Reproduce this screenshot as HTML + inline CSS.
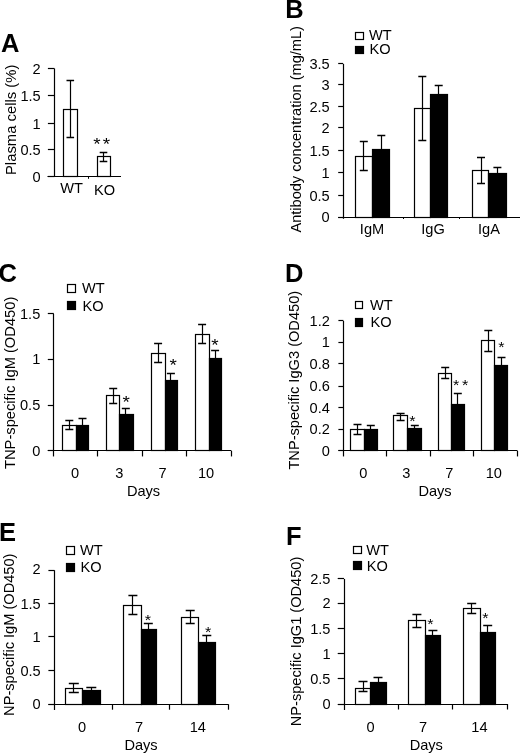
<!DOCTYPE html>
<html><head><meta charset="utf-8"><title>Figure</title>
<style>
html,body{margin:0;padding:0;background:#fff;}
body{width:520px;height:754px;overflow:hidden;}
svg{display:block;filter:grayscale(1) blur(0.35px);}
text{font-family:"Liberation Sans",sans-serif;fill:#000;}
</style></head><body>
<svg width="520" height="754" viewBox="0 0 520 754">
<rect x="0" y="0" width="520" height="754" fill="#fff"/>
<text x="1.00" y="51.90" font-size="25.5" text-anchor="start" font-weight="bold">A</text>
<line x1="54.50" y1="68.50" x2="54.50" y2="176.80" stroke="#000" stroke-width="1.2"/>
<line x1="47.90" y1="176.50" x2="54.40" y2="176.50" stroke="#000" stroke-width="1.2"/>
<text x="40.70" y="182.00" font-size="14.6" text-anchor="end" font-weight="normal">0</text>
<line x1="47.90" y1="149.50" x2="54.40" y2="149.50" stroke="#000" stroke-width="1.2"/>
<text x="40.70" y="154.70" font-size="14.6" text-anchor="end" font-weight="normal">0.5</text>
<line x1="47.90" y1="123.50" x2="54.40" y2="123.50" stroke="#000" stroke-width="1.2"/>
<text x="40.70" y="128.95" font-size="14.6" text-anchor="end" font-weight="normal">1</text>
<line x1="47.90" y1="95.50" x2="54.40" y2="95.50" stroke="#000" stroke-width="1.2"/>
<text x="40.70" y="100.80" font-size="14.6" text-anchor="end" font-weight="normal">1.5</text>
<line x1="47.90" y1="68.50" x2="54.40" y2="68.50" stroke="#000" stroke-width="1.2"/>
<text x="40.70" y="73.70" font-size="14.6" text-anchor="end" font-weight="normal">2</text>
<line x1="47.50" y1="176.50" x2="121.00" y2="176.50" stroke="#000" stroke-width="1.2"/>
<line x1="88.50" y1="176.80" x2="88.50" y2="178.80" stroke="#000" stroke-width="1"/>
<rect x="63.50" y="109.50" width="14.00" height="67.00" fill="#fff" stroke="#000" stroke-width="1.2"/>
<line x1="70.50" y1="80.80" x2="70.50" y2="137.00" stroke="#000" stroke-width="1.2"/>
<line x1="66.50" y1="80.50" x2="74.10" y2="80.50" stroke="#000" stroke-width="1.5"/>
<line x1="66.50" y1="137.50" x2="74.10" y2="137.50" stroke="#000" stroke-width="1.5"/>
<rect x="97.50" y="156.50" width="13.00" height="20.00" fill="#fff" stroke="#000" stroke-width="1.2"/>
<line x1="103.50" y1="152.50" x2="103.50" y2="161.70" stroke="#000" stroke-width="1.2"/>
<line x1="99.70" y1="152.50" x2="107.30" y2="152.50" stroke="#000" stroke-width="1.5"/>
<line x1="99.70" y1="161.50" x2="107.30" y2="161.50" stroke="#000" stroke-width="1.5"/>
<text transform="translate(97.00,149.51) scale(1.08,0.92)" font-size="17.5" text-anchor="middle">*</text>
<text transform="translate(106.50,149.51) scale(1.08,0.92)" font-size="17.5" text-anchor="middle">*</text>
<text x="71.50" y="193.00" font-size="14.6" text-anchor="middle" font-weight="normal">WT</text>
<text x="104.50" y="195.00" font-size="14.6" text-anchor="middle" font-weight="normal">KO</text>
<text transform="translate(15.60,119.80) rotate(-90)" font-size="14.6" text-anchor="middle" textLength="110.5" lengthAdjust="spacingAndGlyphs">Plasma cells (%)</text>
<text x="285.30" y="17.90" font-size="25.5" text-anchor="start" font-weight="bold">B</text>
<rect x="355.50" y="32.50" width="8.00" height="7.00" fill="#fff" stroke="#000" stroke-width="1.2"/>
<text x="369.00" y="40.30" font-size="14.6" text-anchor="start" font-weight="normal">WT</text>
<rect x="355.50" y="46.50" width="8.00" height="7.00" fill="#000" stroke="#000" stroke-width="1.2"/>
<text x="369.50" y="54.40" font-size="14.6" text-anchor="start" font-weight="normal">KO</text>
<line x1="343.50" y1="63.95" x2="343.50" y2="218.80" stroke="#000" stroke-width="1.2"/>
<line x1="338.20" y1="217.50" x2="343.20" y2="217.50" stroke="#000" stroke-width="1.2"/>
<text x="329.70" y="222.20" font-size="14.6" text-anchor="end" font-weight="normal">0</text>
<line x1="338.20" y1="195.50" x2="343.20" y2="195.50" stroke="#000" stroke-width="1.2"/>
<text x="329.70" y="200.70" font-size="14.6" text-anchor="end" font-weight="normal">0.5</text>
<line x1="338.20" y1="172.50" x2="343.20" y2="172.50" stroke="#000" stroke-width="1.2"/>
<text x="329.70" y="177.80" font-size="14.6" text-anchor="end" font-weight="normal">1</text>
<line x1="338.20" y1="150.50" x2="343.20" y2="150.50" stroke="#000" stroke-width="1.2"/>
<text x="329.70" y="155.95" font-size="14.6" text-anchor="end" font-weight="normal">1.5</text>
<line x1="338.20" y1="127.50" x2="343.20" y2="127.50" stroke="#000" stroke-width="1.2"/>
<text x="329.70" y="132.75" font-size="14.6" text-anchor="end" font-weight="normal">2</text>
<line x1="338.20" y1="106.50" x2="343.20" y2="106.50" stroke="#000" stroke-width="1.2"/>
<text x="329.70" y="112.10" font-size="14.6" text-anchor="end" font-weight="normal">2.5</text>
<line x1="338.20" y1="84.50" x2="343.20" y2="84.50" stroke="#000" stroke-width="1.2"/>
<text x="329.70" y="90.00" font-size="14.6" text-anchor="end" font-weight="normal">3</text>
<line x1="338.20" y1="63.50" x2="343.20" y2="63.50" stroke="#000" stroke-width="1.2"/>
<text x="329.70" y="69.15" font-size="14.6" text-anchor="end" font-weight="normal">3.5</text>
<line x1="338.20" y1="217.50" x2="520.00" y2="217.50" stroke="#000" stroke-width="1.2"/>
<line x1="403.50" y1="217.00" x2="403.50" y2="219.00" stroke="#000" stroke-width="1"/>
<line x1="459.50" y1="217.00" x2="459.50" y2="219.00" stroke="#000" stroke-width="1"/>
<rect x="355.50" y="156.50" width="17.00" height="61.00" fill="#fff" stroke="#000" stroke-width="1.2"/>
<rect x="372.50" y="149.50" width="17.00" height="68.00" fill="#000" stroke="#000" stroke-width="1.2"/>
<line x1="363.50" y1="141.80" x2="363.50" y2="170.00" stroke="#000" stroke-width="1.2"/>
<line x1="359.80" y1="141.50" x2="367.80" y2="141.50" stroke="#000" stroke-width="1.5"/>
<line x1="359.80" y1="170.50" x2="367.80" y2="170.50" stroke="#000" stroke-width="1.5"/>
<line x1="381.50" y1="135.00" x2="381.50" y2="149.30" stroke="#000" stroke-width="1.2"/>
<line x1="377.30" y1="135.50" x2="385.30" y2="135.50" stroke="#000" stroke-width="1.5"/>
<rect x="414.50" y="108.50" width="16.00" height="109.00" fill="#fff" stroke="#000" stroke-width="1.2"/>
<rect x="430.50" y="94.50" width="17.00" height="123.00" fill="#000" stroke="#000" stroke-width="1.2"/>
<line x1="422.50" y1="76.10" x2="422.50" y2="140.70" stroke="#000" stroke-width="1.2"/>
<line x1="418.30" y1="76.50" x2="426.30" y2="76.50" stroke="#000" stroke-width="1.5"/>
<line x1="418.30" y1="140.50" x2="426.30" y2="140.50" stroke="#000" stroke-width="1.5"/>
<line x1="438.50" y1="85.40" x2="438.50" y2="94.40" stroke="#000" stroke-width="1.2"/>
<line x1="434.70" y1="85.50" x2="442.70" y2="85.50" stroke="#000" stroke-width="1.5"/>
<rect x="472.50" y="170.50" width="16.00" height="47.00" fill="#fff" stroke="#000" stroke-width="1.2"/>
<rect x="488.50" y="173.50" width="18.00" height="44.00" fill="#000" stroke="#000" stroke-width="1.2"/>
<line x1="481.50" y1="157.70" x2="481.50" y2="183.40" stroke="#000" stroke-width="1.2"/>
<line x1="477.00" y1="157.50" x2="485.00" y2="157.50" stroke="#000" stroke-width="1.5"/>
<line x1="477.00" y1="183.50" x2="485.00" y2="183.50" stroke="#000" stroke-width="1.5"/>
<line x1="497.50" y1="167.20" x2="497.50" y2="173.90" stroke="#000" stroke-width="1.2"/>
<line x1="493.40" y1="167.50" x2="501.40" y2="167.50" stroke="#000" stroke-width="1.5"/>
<text x="372.00" y="234.00" font-size="14.6" text-anchor="middle" font-weight="normal">IgM</text>
<text x="433.00" y="234.00" font-size="14.6" text-anchor="middle" font-weight="normal">IgG</text>
<text x="489.00" y="234.00" font-size="14.6" text-anchor="middle" font-weight="normal">IgA</text>
<text transform="translate(300.50,129.30) rotate(-90)" font-size="14.6" text-anchor="middle" textLength="206.5" lengthAdjust="spacingAndGlyphs">Antibody concentration (mg/mL)</text>
<text x="-1.40" y="281.70" font-size="25.5" text-anchor="start" font-weight="bold">C</text>
<rect x="67.50" y="284.50" width="8.00" height="8.00" fill="#fff" stroke="#000" stroke-width="1.2"/>
<text x="82.00" y="292.80" font-size="14.6" text-anchor="start" font-weight="normal">WT</text>
<rect x="67.50" y="301.50" width="8.00" height="8.00" fill="#000" stroke="#000" stroke-width="1.2"/>
<text x="82.50" y="310.60" font-size="14.6" text-anchor="start" font-weight="normal">KO</text>
<line x1="53.50" y1="313.90" x2="53.50" y2="456.45" stroke="#000" stroke-width="1.2"/>
<line x1="47.80" y1="450.50" x2="53.80" y2="450.50" stroke="#000" stroke-width="1.2"/>
<text x="40.30" y="456.15" font-size="14.6" text-anchor="end" font-weight="normal">0</text>
<line x1="47.80" y1="405.50" x2="53.80" y2="405.50" stroke="#000" stroke-width="1.2"/>
<text x="40.30" y="410.40" font-size="14.6" text-anchor="end" font-weight="normal">0.5</text>
<line x1="47.80" y1="359.50" x2="53.80" y2="359.50" stroke="#000" stroke-width="1.2"/>
<text x="40.30" y="364.40" font-size="14.6" text-anchor="end" font-weight="normal">1</text>
<line x1="47.80" y1="313.50" x2="53.80" y2="313.50" stroke="#000" stroke-width="1.2"/>
<text x="40.30" y="319.10" font-size="14.6" text-anchor="end" font-weight="normal">1.5</text>
<line x1="47.80" y1="450.50" x2="231.40" y2="450.50" stroke="#000" stroke-width="1.2"/>
<line x1="97.50" y1="450.95" x2="97.50" y2="456.45" stroke="#000" stroke-width="1.2"/>
<line x1="142.50" y1="450.95" x2="142.50" y2="456.45" stroke="#000" stroke-width="1.2"/>
<line x1="186.50" y1="450.95" x2="186.50" y2="456.45" stroke="#000" stroke-width="1.2"/>
<line x1="231.50" y1="450.95" x2="231.50" y2="456.45" stroke="#000" stroke-width="1.2"/>
<rect x="62.50" y="425.50" width="14.00" height="25.00" fill="#fff" stroke="#000" stroke-width="1.2"/>
<rect x="76.50" y="425.50" width="12.00" height="25.00" fill="#000" stroke="#000" stroke-width="1.2"/>
<line x1="69.50" y1="420.00" x2="69.50" y2="429.50" stroke="#000" stroke-width="1.2"/>
<line x1="65.30" y1="420.50" x2="73.30" y2="420.50" stroke="#000" stroke-width="1.5"/>
<line x1="65.30" y1="429.50" x2="73.30" y2="429.50" stroke="#000" stroke-width="1.5"/>
<line x1="82.50" y1="418.80" x2="82.50" y2="425.50" stroke="#000" stroke-width="1.2"/>
<line x1="78.50" y1="418.50" x2="86.50" y2="418.50" stroke="#000" stroke-width="1.5"/>
<rect x="106.50" y="395.50" width="13.00" height="55.00" fill="#fff" stroke="#000" stroke-width="1.2"/>
<rect x="119.50" y="414.50" width="14.00" height="36.00" fill="#000" stroke="#000" stroke-width="1.2"/>
<line x1="113.50" y1="388.90" x2="113.50" y2="403.80" stroke="#000" stroke-width="1.2"/>
<line x1="109.20" y1="388.50" x2="117.20" y2="388.50" stroke="#000" stroke-width="1.5"/>
<line x1="109.20" y1="403.50" x2="117.20" y2="403.50" stroke="#000" stroke-width="1.5"/>
<line x1="125.50" y1="408.10" x2="125.50" y2="414.70" stroke="#000" stroke-width="1.2"/>
<line x1="121.80" y1="408.50" x2="129.80" y2="408.50" stroke="#000" stroke-width="1.5"/>
<rect x="151.50" y="353.50" width="14.00" height="97.00" fill="#fff" stroke="#000" stroke-width="1.2"/>
<rect x="165.50" y="380.50" width="12.00" height="70.00" fill="#000" stroke="#000" stroke-width="1.2"/>
<line x1="158.50" y1="343.80" x2="158.50" y2="362.60" stroke="#000" stroke-width="1.2"/>
<line x1="154.10" y1="343.50" x2="162.10" y2="343.50" stroke="#000" stroke-width="1.5"/>
<line x1="154.10" y1="362.50" x2="162.10" y2="362.50" stroke="#000" stroke-width="1.5"/>
<line x1="170.50" y1="373.30" x2="170.50" y2="380.10" stroke="#000" stroke-width="1.2"/>
<line x1="166.90" y1="373.50" x2="174.90" y2="373.50" stroke="#000" stroke-width="1.5"/>
<rect x="195.50" y="334.50" width="14.00" height="116.00" fill="#fff" stroke="#000" stroke-width="1.2"/>
<rect x="209.50" y="358.50" width="12.00" height="92.00" fill="#000" stroke="#000" stroke-width="1.2"/>
<line x1="202.50" y1="324.60" x2="202.50" y2="343.80" stroke="#000" stroke-width="1.2"/>
<line x1="198.10" y1="324.50" x2="206.10" y2="324.50" stroke="#000" stroke-width="1.5"/>
<line x1="198.10" y1="343.50" x2="206.10" y2="343.50" stroke="#000" stroke-width="1.5"/>
<line x1="215.50" y1="350.60" x2="215.50" y2="358.10" stroke="#000" stroke-width="1.2"/>
<line x1="211.10" y1="350.50" x2="219.10" y2="350.50" stroke="#000" stroke-width="1.5"/>
<text transform="translate(126.20,407.51) scale(1.08,0.92)" font-size="17.5" text-anchor="middle">*</text>
<text transform="translate(173.10,371.21) scale(1.08,0.92)" font-size="17.5" text-anchor="middle">*</text>
<text transform="translate(214.90,351.21) scale(1.08,0.92)" font-size="17.5" text-anchor="middle">*</text>
<text x="75.00" y="478.30" font-size="14.6" text-anchor="middle" font-weight="normal">0</text>
<text x="119.40" y="478.30" font-size="14.6" text-anchor="middle" font-weight="normal">3</text>
<text x="162.50" y="478.30" font-size="14.6" text-anchor="middle" font-weight="normal">7</text>
<text x="206.00" y="478.30" font-size="14.6" text-anchor="middle" font-weight="normal">10</text>
<text x="143.50" y="496.00" font-size="14.6" text-anchor="middle" font-weight="normal">Days</text>
<text transform="translate(15.00,382.85) rotate(-90)" font-size="14.6" text-anchor="middle" textLength="172.3" lengthAdjust="spacingAndGlyphs">TNP-specific IgM (OD450)</text>
<text x="285.00" y="282.00" font-size="25.5" text-anchor="start" font-weight="bold">D</text>
<rect x="355.50" y="301.50" width="7.00" height="7.00" fill="#fff" stroke="#000" stroke-width="1.2"/>
<text x="370.00" y="309.50" font-size="14.6" text-anchor="start" font-weight="normal">WT</text>
<rect x="355.50" y="318.50" width="7.00" height="8.00" fill="#000" stroke="#000" stroke-width="1.2"/>
<text x="370.50" y="327.00" font-size="14.6" text-anchor="start" font-weight="normal">KO</text>
<line x1="343.50" y1="320.90" x2="343.50" y2="456.45" stroke="#000" stroke-width="1.2"/>
<line x1="338.40" y1="450.50" x2="343.40" y2="450.50" stroke="#000" stroke-width="1.2"/>
<text x="329.90" y="456.15" font-size="14.6" text-anchor="end" font-weight="normal">0</text>
<line x1="338.40" y1="429.50" x2="343.40" y2="429.50" stroke="#000" stroke-width="1.2"/>
<text x="329.90" y="434.30" font-size="14.6" text-anchor="end" font-weight="normal">0.2</text>
<line x1="338.40" y1="407.50" x2="343.40" y2="407.50" stroke="#000" stroke-width="1.2"/>
<text x="329.90" y="413.10" font-size="14.6" text-anchor="end" font-weight="normal">0.4</text>
<line x1="338.40" y1="386.50" x2="343.40" y2="386.50" stroke="#000" stroke-width="1.2"/>
<text x="329.90" y="391.45" font-size="14.6" text-anchor="end" font-weight="normal">0.6</text>
<line x1="338.40" y1="363.50" x2="343.40" y2="363.50" stroke="#000" stroke-width="1.2"/>
<text x="329.90" y="368.70" font-size="14.6" text-anchor="end" font-weight="normal">0.8</text>
<line x1="338.40" y1="342.50" x2="343.40" y2="342.50" stroke="#000" stroke-width="1.2"/>
<text x="329.90" y="347.20" font-size="14.6" text-anchor="end" font-weight="normal">1</text>
<line x1="338.40" y1="320.50" x2="343.40" y2="320.50" stroke="#000" stroke-width="1.2"/>
<text x="329.90" y="326.10" font-size="14.6" text-anchor="end" font-weight="normal">1.2</text>
<line x1="338.40" y1="450.50" x2="517.50" y2="450.50" stroke="#000" stroke-width="1.2"/>
<line x1="386.50" y1="450.95" x2="386.50" y2="456.45" stroke="#000" stroke-width="1.2"/>
<line x1="430.50" y1="450.95" x2="430.50" y2="456.45" stroke="#000" stroke-width="1.2"/>
<line x1="473.50" y1="450.95" x2="473.50" y2="456.45" stroke="#000" stroke-width="1.2"/>
<line x1="517.50" y1="450.95" x2="517.50" y2="456.45" stroke="#000" stroke-width="1.2"/>
<rect x="350.50" y="429.50" width="14.00" height="21.00" fill="#fff" stroke="#000" stroke-width="1.2"/>
<rect x="364.50" y="429.50" width="13.00" height="21.00" fill="#000" stroke="#000" stroke-width="1.2"/>
<line x1="357.50" y1="424.30" x2="357.50" y2="434.30" stroke="#000" stroke-width="1.2"/>
<line x1="353.50" y1="424.50" x2="361.50" y2="424.50" stroke="#000" stroke-width="1.5"/>
<line x1="353.50" y1="434.50" x2="361.50" y2="434.50" stroke="#000" stroke-width="1.5"/>
<line x1="370.50" y1="425.80" x2="370.50" y2="429.30" stroke="#000" stroke-width="1.2"/>
<line x1="366.80" y1="425.50" x2="374.80" y2="425.50" stroke="#000" stroke-width="1.5"/>
<rect x="393.50" y="415.50" width="14.00" height="35.00" fill="#fff" stroke="#000" stroke-width="1.2"/>
<rect x="407.50" y="428.50" width="14.00" height="22.00" fill="#000" stroke="#000" stroke-width="1.2"/>
<line x1="400.50" y1="413.20" x2="400.50" y2="420.60" stroke="#000" stroke-width="1.2"/>
<line x1="396.60" y1="413.50" x2="404.60" y2="413.50" stroke="#000" stroke-width="1.5"/>
<line x1="396.60" y1="420.50" x2="404.60" y2="420.50" stroke="#000" stroke-width="1.5"/>
<line x1="414.50" y1="425.70" x2="414.50" y2="428.40" stroke="#000" stroke-width="1.2"/>
<line x1="410.80" y1="425.50" x2="418.80" y2="425.50" stroke="#000" stroke-width="1.5"/>
<rect x="438.50" y="373.50" width="13.00" height="77.00" fill="#fff" stroke="#000" stroke-width="1.2"/>
<rect x="451.50" y="404.50" width="13.00" height="46.00" fill="#000" stroke="#000" stroke-width="1.2"/>
<line x1="445.50" y1="367.70" x2="445.50" y2="378.50" stroke="#000" stroke-width="1.2"/>
<line x1="441.20" y1="367.50" x2="449.20" y2="367.50" stroke="#000" stroke-width="1.5"/>
<line x1="441.20" y1="378.50" x2="449.20" y2="378.50" stroke="#000" stroke-width="1.5"/>
<line x1="457.50" y1="393.40" x2="457.50" y2="404.40" stroke="#000" stroke-width="1.2"/>
<line x1="453.80" y1="393.50" x2="461.80" y2="393.50" stroke="#000" stroke-width="1.5"/>
<rect x="481.50" y="340.50" width="13.00" height="110.00" fill="#fff" stroke="#000" stroke-width="1.2"/>
<rect x="494.50" y="365.50" width="13.00" height="85.00" fill="#000" stroke="#000" stroke-width="1.2"/>
<line x1="488.50" y1="330.40" x2="488.50" y2="351.70" stroke="#000" stroke-width="1.2"/>
<line x1="484.30" y1="330.50" x2="492.30" y2="330.50" stroke="#000" stroke-width="1.5"/>
<line x1="484.30" y1="351.50" x2="492.30" y2="351.50" stroke="#000" stroke-width="1.5"/>
<line x1="501.50" y1="357.20" x2="501.50" y2="365.40" stroke="#000" stroke-width="1.2"/>
<line x1="497.50" y1="357.50" x2="505.50" y2="357.50" stroke="#000" stroke-width="1.5"/>
<text transform="translate(412.30,425.58) scale(1.08,0.92)" font-size="15" text-anchor="middle">*</text>
<text transform="translate(456.20,389.68) scale(1.08,0.92)" font-size="15" text-anchor="middle">*</text>
<text transform="translate(465.20,389.68) scale(1.08,0.92)" font-size="15" text-anchor="middle">*</text>
<text transform="translate(501.30,351.98) scale(1.08,0.92)" font-size="15" text-anchor="middle">*</text>
<text x="363.20" y="478.30" font-size="14.6" text-anchor="middle" font-weight="normal">0</text>
<text x="406.20" y="478.30" font-size="14.6" text-anchor="middle" font-weight="normal">3</text>
<text x="449.20" y="478.30" font-size="14.6" text-anchor="middle" font-weight="normal">7</text>
<text x="493.80" y="478.30" font-size="14.6" text-anchor="middle" font-weight="normal">10</text>
<text x="435.00" y="496.00" font-size="14.6" text-anchor="middle" font-weight="normal">Days</text>
<text transform="translate(299.20,380.20) rotate(-90)" font-size="14.6" text-anchor="middle" textLength="178.8" lengthAdjust="spacingAndGlyphs">TNP-specific IgG3 (OD450)</text>
<text x="-1.00" y="540.50" font-size="25.5" text-anchor="start" font-weight="bold">E</text>
<rect x="66.50" y="546.50" width="8.00" height="8.00" fill="#fff" stroke="#000" stroke-width="1.2"/>
<text x="80.00" y="554.50" font-size="14.6" text-anchor="start" font-weight="normal">WT</text>
<rect x="66.50" y="563.50" width="8.00" height="8.00" fill="#000" stroke="#000" stroke-width="1.2"/>
<text x="80.50" y="571.50" font-size="14.6" text-anchor="start" font-weight="normal">KO</text>
<line x1="54.50" y1="570.20" x2="54.50" y2="710.00" stroke="#000" stroke-width="1.2"/>
<line x1="48.40" y1="704.50" x2="54.40" y2="704.50" stroke="#000" stroke-width="1.2"/>
<text x="40.70" y="709.10" font-size="14.6" text-anchor="end" font-weight="normal">0</text>
<line x1="48.40" y1="670.50" x2="54.40" y2="670.50" stroke="#000" stroke-width="1.2"/>
<text x="40.70" y="675.90" font-size="14.6" text-anchor="end" font-weight="normal">0.5</text>
<line x1="48.40" y1="636.50" x2="54.40" y2="636.50" stroke="#000" stroke-width="1.2"/>
<text x="40.70" y="642.00" font-size="14.6" text-anchor="end" font-weight="normal">1</text>
<line x1="48.40" y1="603.50" x2="54.40" y2="603.50" stroke="#000" stroke-width="1.2"/>
<text x="40.70" y="608.65" font-size="14.6" text-anchor="end" font-weight="normal">1.5</text>
<line x1="48.40" y1="570.50" x2="54.40" y2="570.50" stroke="#000" stroke-width="1.2"/>
<text x="40.70" y="573.80" font-size="14.6" text-anchor="end" font-weight="normal">2</text>
<line x1="48.40" y1="704.50" x2="228.30" y2="704.50" stroke="#000" stroke-width="1.2"/>
<line x1="112.50" y1="704.20" x2="112.50" y2="709.70" stroke="#000" stroke-width="1.2"/>
<line x1="169.50" y1="704.20" x2="169.50" y2="709.70" stroke="#000" stroke-width="1.2"/>
<line x1="228.50" y1="704.20" x2="228.50" y2="709.70" stroke="#000" stroke-width="1.2"/>
<rect x="65.50" y="688.50" width="17.00" height="16.00" fill="#fff" stroke="#000" stroke-width="1.2"/>
<rect x="82.50" y="690.50" width="18.00" height="14.00" fill="#000" stroke="#000" stroke-width="1.2"/>
<line x1="73.50" y1="683.30" x2="73.50" y2="692.00" stroke="#000" stroke-width="1.2"/>
<line x1="68.80" y1="683.50" x2="78.80" y2="683.50" stroke="#000" stroke-width="1.5"/>
<line x1="68.80" y1="692.50" x2="78.80" y2="692.50" stroke="#000" stroke-width="1.5"/>
<line x1="91.50" y1="687.00" x2="91.50" y2="690.80" stroke="#000" stroke-width="1.2"/>
<line x1="86.30" y1="687.50" x2="96.30" y2="687.50" stroke="#000" stroke-width="1.5"/>
<rect x="123.50" y="605.50" width="18.00" height="99.00" fill="#fff" stroke="#000" stroke-width="1.2"/>
<rect x="141.50" y="629.50" width="15.00" height="75.00" fill="#000" stroke="#000" stroke-width="1.2"/>
<line x1="132.50" y1="595.70" x2="132.50" y2="614.80" stroke="#000" stroke-width="1.2"/>
<line x1="128.40" y1="595.50" x2="137.40" y2="595.50" stroke="#000" stroke-width="1.5"/>
<line x1="128.40" y1="614.50" x2="137.40" y2="614.50" stroke="#000" stroke-width="1.5"/>
<line x1="148.50" y1="623.40" x2="148.50" y2="629.20" stroke="#000" stroke-width="1.2"/>
<line x1="143.80" y1="623.50" x2="152.80" y2="623.50" stroke="#000" stroke-width="1.5"/>
<rect x="181.50" y="617.50" width="17.00" height="87.00" fill="#fff" stroke="#000" stroke-width="1.2"/>
<rect x="198.50" y="642.50" width="17.00" height="62.00" fill="#000" stroke="#000" stroke-width="1.2"/>
<line x1="190.50" y1="610.20" x2="190.50" y2="623.40" stroke="#000" stroke-width="1.2"/>
<line x1="185.70" y1="610.50" x2="194.70" y2="610.50" stroke="#000" stroke-width="1.5"/>
<line x1="185.70" y1="623.50" x2="194.70" y2="623.50" stroke="#000" stroke-width="1.5"/>
<line x1="206.50" y1="635.60" x2="206.50" y2="642.70" stroke="#000" stroke-width="1.2"/>
<line x1="202.30" y1="635.50" x2="211.30" y2="635.50" stroke="#000" stroke-width="1.5"/>
<text transform="translate(147.80,624.98) scale(1.08,0.92)" font-size="15" text-anchor="middle">*</text>
<text transform="translate(208.20,636.68) scale(1.08,0.92)" font-size="15" text-anchor="middle">*</text>
<text x="82.00" y="731.50" font-size="14.6" text-anchor="middle" font-weight="normal">0</text>
<text x="139.00" y="731.50" font-size="14.6" text-anchor="middle" font-weight="normal">7</text>
<text x="197.80" y="731.50" font-size="14.6" text-anchor="middle" font-weight="normal">14</text>
<text x="141.00" y="749.50" font-size="14.6" text-anchor="middle" font-weight="normal">Days</text>
<text transform="translate(13.90,634.75) rotate(-90)" font-size="14.6" text-anchor="middle" textLength="162.3" lengthAdjust="spacingAndGlyphs">NP-specific IgM (OD450)</text>
<text x="286.10" y="544.70" font-size="25.5" text-anchor="start" font-weight="bold">F</text>
<rect x="353.50" y="546.50" width="8.00" height="7.00" fill="#fff" stroke="#000" stroke-width="1.2"/>
<text x="366.30" y="554.50" font-size="14.6" text-anchor="start" font-weight="normal">WT</text>
<rect x="353.50" y="561.50" width="8.00" height="8.00" fill="#000" stroke="#000" stroke-width="1.2"/>
<text x="366.80" y="570.50" font-size="14.6" text-anchor="start" font-weight="normal">KO</text>
<line x1="344.50" y1="578.90" x2="344.50" y2="710.00" stroke="#000" stroke-width="1.2"/>
<line x1="337.70" y1="704.50" x2="344.00" y2="704.50" stroke="#000" stroke-width="1.2"/>
<text x="330.50" y="709.20" font-size="14.6" text-anchor="end" font-weight="normal">0</text>
<line x1="337.70" y1="678.50" x2="344.00" y2="678.50" stroke="#000" stroke-width="1.2"/>
<text x="330.50" y="683.80" font-size="14.6" text-anchor="end" font-weight="normal">0.5</text>
<line x1="337.70" y1="653.50" x2="344.00" y2="653.50" stroke="#000" stroke-width="1.2"/>
<text x="330.50" y="659.05" font-size="14.6" text-anchor="end" font-weight="normal">1</text>
<line x1="337.70" y1="628.50" x2="344.00" y2="628.50" stroke="#000" stroke-width="1.2"/>
<text x="330.50" y="633.90" font-size="14.6" text-anchor="end" font-weight="normal">1.5</text>
<line x1="337.70" y1="603.50" x2="344.00" y2="603.50" stroke="#000" stroke-width="1.2"/>
<text x="330.50" y="608.30" font-size="14.6" text-anchor="end" font-weight="normal">2</text>
<line x1="337.70" y1="578.50" x2="344.00" y2="578.50" stroke="#000" stroke-width="1.2"/>
<text x="330.50" y="584.10" font-size="14.6" text-anchor="end" font-weight="normal">2.5</text>
<line x1="338.00" y1="704.50" x2="507.70" y2="704.50" stroke="#000" stroke-width="1.2"/>
<line x1="398.50" y1="704.00" x2="398.50" y2="709.50" stroke="#000" stroke-width="1.2"/>
<line x1="452.50" y1="704.00" x2="452.50" y2="709.50" stroke="#000" stroke-width="1.2"/>
<line x1="507.50" y1="704.00" x2="507.50" y2="709.50" stroke="#000" stroke-width="1.2"/>
<rect x="355.50" y="688.50" width="15.00" height="16.00" fill="#fff" stroke="#000" stroke-width="1.2"/>
<rect x="370.50" y="682.50" width="16.00" height="22.00" fill="#000" stroke="#000" stroke-width="1.2"/>
<line x1="363.50" y1="681.30" x2="363.50" y2="691.80" stroke="#000" stroke-width="1.2"/>
<line x1="358.50" y1="681.50" x2="367.50" y2="681.50" stroke="#000" stroke-width="1.5"/>
<line x1="358.50" y1="691.50" x2="367.50" y2="691.50" stroke="#000" stroke-width="1.5"/>
<line x1="378.50" y1="677.00" x2="378.50" y2="682.50" stroke="#000" stroke-width="1.2"/>
<line x1="373.50" y1="677.50" x2="382.50" y2="677.50" stroke="#000" stroke-width="1.5"/>
<rect x="408.50" y="620.50" width="17.00" height="84.00" fill="#fff" stroke="#000" stroke-width="1.2"/>
<rect x="425.50" y="635.50" width="15.00" height="69.00" fill="#000" stroke="#000" stroke-width="1.2"/>
<line x1="416.50" y1="614.20" x2="416.50" y2="627.00" stroke="#000" stroke-width="1.2"/>
<line x1="412.40" y1="614.50" x2="421.40" y2="614.50" stroke="#000" stroke-width="1.5"/>
<line x1="412.40" y1="627.50" x2="421.40" y2="627.50" stroke="#000" stroke-width="1.5"/>
<line x1="432.50" y1="630.20" x2="432.50" y2="635.40" stroke="#000" stroke-width="1.2"/>
<line x1="428.40" y1="630.50" x2="437.40" y2="630.50" stroke="#000" stroke-width="1.5"/>
<rect x="463.50" y="608.50" width="17.00" height="96.00" fill="#fff" stroke="#000" stroke-width="1.2"/>
<rect x="480.50" y="632.50" width="15.00" height="72.00" fill="#000" stroke="#000" stroke-width="1.2"/>
<line x1="471.50" y1="603.00" x2="471.50" y2="613.80" stroke="#000" stroke-width="1.2"/>
<line x1="467.20" y1="603.50" x2="476.20" y2="603.50" stroke="#000" stroke-width="1.5"/>
<line x1="467.20" y1="613.50" x2="476.20" y2="613.50" stroke="#000" stroke-width="1.5"/>
<line x1="487.50" y1="625.00" x2="487.50" y2="632.80" stroke="#000" stroke-width="1.2"/>
<line x1="483.20" y1="625.50" x2="492.20" y2="625.50" stroke="#000" stroke-width="1.5"/>
<text transform="translate(430.50,629.48) scale(1.08,0.92)" font-size="15" text-anchor="middle">*</text>
<text transform="translate(485.40,622.58) scale(1.08,0.92)" font-size="15" text-anchor="middle">*</text>
<text x="370.50" y="731.50" font-size="14.6" text-anchor="middle" font-weight="normal">0</text>
<text x="423.00" y="731.50" font-size="14.6" text-anchor="middle" font-weight="normal">7</text>
<text x="479.40" y="731.50" font-size="14.6" text-anchor="middle" font-weight="normal">14</text>
<text x="426.30" y="749.50" font-size="14.6" text-anchor="middle" font-weight="normal">Days</text>
<text transform="translate(301.20,641.45) rotate(-90)" font-size="14.6" text-anchor="middle" textLength="169.5" lengthAdjust="spacingAndGlyphs">NP-specific IgG1 (OD450)</text>
</svg>
</body></html>
